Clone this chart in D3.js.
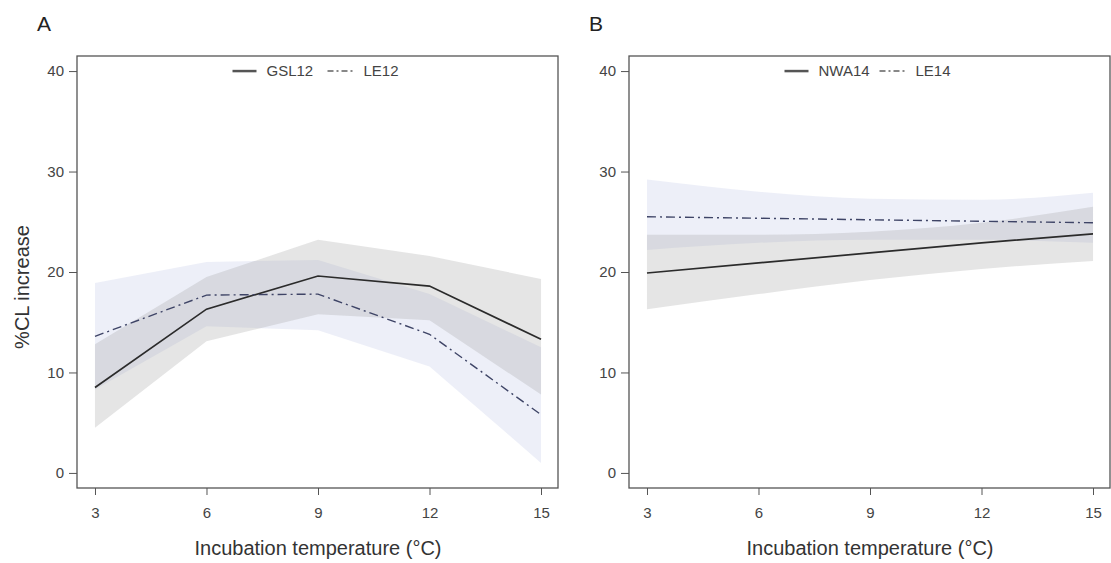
<!DOCTYPE html>
<html>
<head>
	<meta charset="utf-8">
	<title>%CL increase vs incubation temperature</title>
	<script src="https://d3js.org/d3.v7.min.js"></script>
	<style>
		body { margin: 0; background: #fff; }
		text { font-family: "Liberation Sans", Arial, sans-serif; }
	</style>
</head>
<body>
	<div class="chart"></div>

	<script type="text/javascript">

		// x: incubation temperature
		const temps = [3, 6, 9, 12, 15]
		const xTicks = [3, 6, 9, 12, 15]
		const yTicks = [0, 10, 20, 30, 40]

		// panel A
		const gsl12 = [8.5, 16.3, 19.6, 18.6, 13.3]
		const gsl12Lo = [4.5, 13.1, 15.8, 15.2, 7.8]
		const gsl12Hi = [12.8, 19.5, 23.2, 21.6, 19.3]
		const le12 = [13.6, 17.7, 17.8, 13.8, 5.8]
		const le12Lo = [8.3, 14.6, 14.2, 10.6, 1.0]
		const le12Hi = [18.9, 21.0, 21.2, 17.8, 12.5]

		// panel B
		const nwa14 = [19.9, 20.9, 21.9, 22.9, 23.8]
		const nwa14Lo = [16.3, 17.8, 19.2, 20.3, 21.1]
		const nwa14Hi = [23.7, 23.7, 24.0, 24.9, 26.5]
		const le14 = [25.5, 25.35, 25.2, 25.05, 24.9]
		const le14Lo = [22.2, 22.9, 23.2, 23.2, 22.9]
		const le14Hi = [29.2, 28.0, 27.3, 27.2, 27.9]

		var width = 1111
		var height = 563

		var svg = d3
			.select('.chart')
			.append('svg')
			.attr('width', width)
			.attr('height', height)

		// shared scales (frame is 481 x 432)
		const frameW = 481
		const frameH = 432
		const frameTop = 56
		const x = d3.scaleLinear().domain([2.516, 15.457]).range([0, frameW])
		const y = d3.scaleLinear().domain([-1.5, 41.5]).range([frameH, 0])

		const panels = [
			{
				letter: 'A', left: 77, curve: d3.curveLinear,
				solid: { name: 'GSL12', mean: gsl12, lo: gsl12Lo, hi: gsl12Hi },
				dash: { name: 'LE12', mean: le12, lo: le12Lo, hi: le12Hi }
			},
			{
				letter: 'B', left: 629, curve: d3.curveMonotoneX,
				solid: { name: 'NWA14', mean: nwa14, lo: nwa14Lo, hi: nwa14Hi },
				dash: { name: 'LE14', mean: le14, lo: le14Lo, hi: le14Hi }
			}
		]

		const dashArr = '9,4,2,4'

		panels.forEach((p) => {
			const g = svg.append('g').attr('transform', `translate(${p.left}, ${frameTop})`)

			// bands
			const area = (s) => d3.area()
				.curve(p.curve)
				.x((d, i) => x(temps[i]))
				.y0((d, i) => y(s.lo[i]))
				.y1((d, i) => y(s.hi[i]))(temps)

			g.append('path')
				.attr('d', area(p.dash))
				.attr('fill', '#cdd4eb')
				.attr('fill-opacity', 0.37)

			g.append('path')
				.attr('d', area(p.solid))
				.attr('fill', '#a0a0a0')
				.attr('fill-opacity', 0.27)

			// lines
			const line = (s) => d3.line()
				.x((d, i) => x(temps[i]))
				.y((d, i) => y(s.mean[i]))(temps)

			g.append('path')
				.attr('d', line(p.solid))
				.attr('fill', 'none')
				.attr('stroke', '#2b2b2b')
				.attr('stroke-width', 1.7)

			g.append('path')
				.attr('d', line(p.dash))
				.attr('fill', 'none')
				.attr('stroke', '#3e4466')
				.attr('stroke-width', 1.4)
				.attr('stroke-dasharray', dashArr)

			// axes
			const xAxis = g.append('g')
				.attr('transform', `translate(0, ${frameH})`)
				.call(d3.axisBottom(x).tickValues(xTicks).tickSize(7).tickPadding(12))
			const yAxis = g.append('g')
				.call(d3.axisLeft(y).tickValues(yTicks).tickSize(8).tickPadding(5))

			;[xAxis, yAxis].forEach((a) => {
				a.select('.domain').remove()
				a.selectAll('line').attr('stroke', '#555')
				a.selectAll('text')
					.attr('fill', '#444')
					.style('font-size', '15px')
			})

			// frame
			g.append('rect')
				.attr('width', frameW)
				.attr('height', frameH)
				.attr('fill', 'none')
				.attr('stroke', '#555')
				.attr('stroke-width', 1.3)

			// axis title
			g.append('text')
				.attr('x', x(9))
				.attr('y', 499)
				.attr('text-anchor', 'middle')
				.attr('fill', '#333')
				.style('font-size', '20px')
				.text('Incubation temperature (°C)')

			// panel letter
			svg.append('text')
				.attr('x', p.left - 40)
				.attr('y', 31)
				.attr('fill', '#222')
				.style('font-size', '21px')
				.text(p.letter)

			// legend
			const cx = frameW / 2 - 1
			const ly = y(40)
			g.append('line')
				.attr('x1', cx - 84).attr('x2', cx - 60)
				.attr('y1', ly).attr('y2', ly)
				.attr('stroke', '#555').attr('stroke-width', 2.5)
			g.append('text')
				.attr('x', cx - 50).attr('y', ly + 5)
				.attr('fill', '#444')
				.style('font-size', '15px')
				.text(p.solid.name)
			g.append('line')
				.attr('x1', cx + 11).attr('x2', cx + 36)
				.attr('y1', ly).attr('y2', ly)
				.attr('stroke', '#888').attr('stroke-width', 2)
				.attr('stroke-dasharray', '6,3,2,3')
			g.append('text')
				.attr('x', cx + 47).attr('y', ly + 5)
				.attr('fill', '#444')
				.style('font-size', '15px')
				.text(p.dash.name)
		})

		// y axis title (panel A only)
		svg.append('text')
			.attr('transform', 'translate(29, 287) rotate(-90)')
			.attr('text-anchor', 'middle')
			.attr('fill', '#333')
			.style('font-size', '20px')
			.text('%CL increase')

	</script>
</body>
</html>
